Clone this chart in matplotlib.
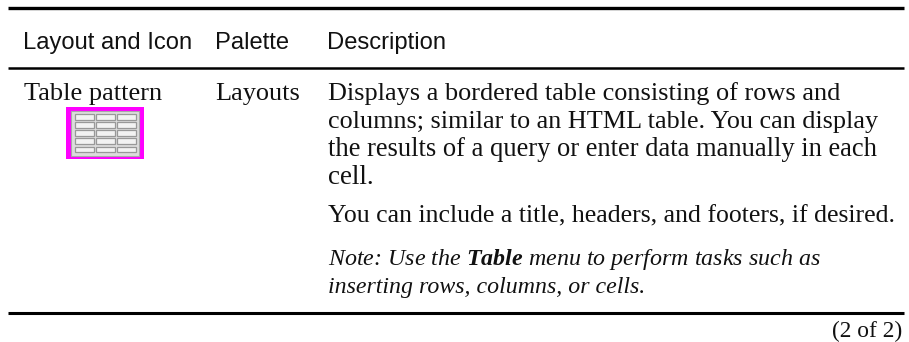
import matplotlib
matplotlib.use('Agg')
import matplotlib.pyplot as plt
from matplotlib.patches import Rectangle

W = 909
H = 342

# header row
headers = ['Layout and Icon', 'Palette', 'Description']
header_x = [24, 216, 328]
header_end = [192, 289, 446]

# body text
layout_name = 'Table pattern'
palette_name = 'Layouts'
desc_lines = [
    'Displays a bordered table consisting of rows and',
    'columns; similar to an HTML table. You can display',
    'the results of a query or enter data manually in each',
    'cell.',
    'You can include a title, headers, and footers, if desired.',
]
desc_y = [100, 128, 156, 184, 222]
desc_end = [841, 877, 878, 374, 896]
note_lines = [
    r'Note: Use the $\mathbfit{Table}$ menu to perform tasks such as',
    'inserting rows, columns, or cells.',
]
note_y = [265, 293]
note_end = [820, 646]
page_text = '(2 of 2)'

# icon grid
icon_rows = 5
icon_cols = 3

plt.rcParams['mathtext.fontset'] = 'custom'
plt.rcParams['mathtext.bfit'] = 'Liberation Serif:italic:bold'

fig = plt.figure(figsize=(W / 100, H / 100), dpi=100)
ax = fig.add_axes([0, 0, 1, 1])
ax.set_xlim(0, W)
ax.set_ylim(H, 0)
ax.axis('off')
renderer = fig.canvas.get_renderer()


def fit_text(x, y, label, end, family, size, style='normal'):
    # start from a size and nudge it so the line ends where it should
    t = ax.text(x, y, label, family=family, fontsize=size, style=style,
                color='#111111', va='baseline')
    width = t.get_window_extent(renderer).width
    t.set_fontsize(size * (end - x) / width)
    return t


# rules
ax.plot([8, 904], [8.3, 8.3], color='black', lw=2.4, solid_capstyle='butt')
ax.plot([8, 904], [68, 68], color='black', lw=1.8, solid_capstyle='butt')
ax.plot([8, 904], [312.5, 312.5], color='black', lw=2.2, solid_capstyle='butt')

sans = 'Liberation Sans'
serif = 'Liberation Serif'

for label, x, end in zip(headers, header_x, header_end):
    fit_text(x - 1, 49, label, end, sans, 17)

fit_text(24, 100, layout_name, 162, serif, 19)
fit_text(215, 100, palette_name, 300, serif, 19)

for line, y, end in zip(desc_lines, desc_y, desc_end):
    fit_text(328, y, line, end, serif, 19)

for line, y, end in zip(note_lines, note_y, note_end):
    fit_text(328, y, line, end, serif, 19, style='italic')

fit_text(832, 337, page_text, 902, serif, 17)

# icon: magenta border with grey cells
ax.add_patch(Rectangle((66, 107), 78, 52, facecolor='#ff00ff', edgecolor='none'))
ax.add_patch(Rectangle((71, 111), 68, 45, facecolor='#dcdcdc', edgecolor='#a8a8a8', lw=0.8))
cell_w = 63 / icon_cols
cell_h = 41 / icon_rows
for r in range(icon_rows):
    for c in range(icon_cols):
        ax.add_patch(Rectangle((74 + c * cell_w + 0.5, 113 + r * cell_h + 0.8),
                               cell_w - 1.5, cell_h - 2.4,
                               facecolor='#f2f2f2', edgecolor='#989898', lw=0.9))

fig.savefig('out.png', dpi=100)
